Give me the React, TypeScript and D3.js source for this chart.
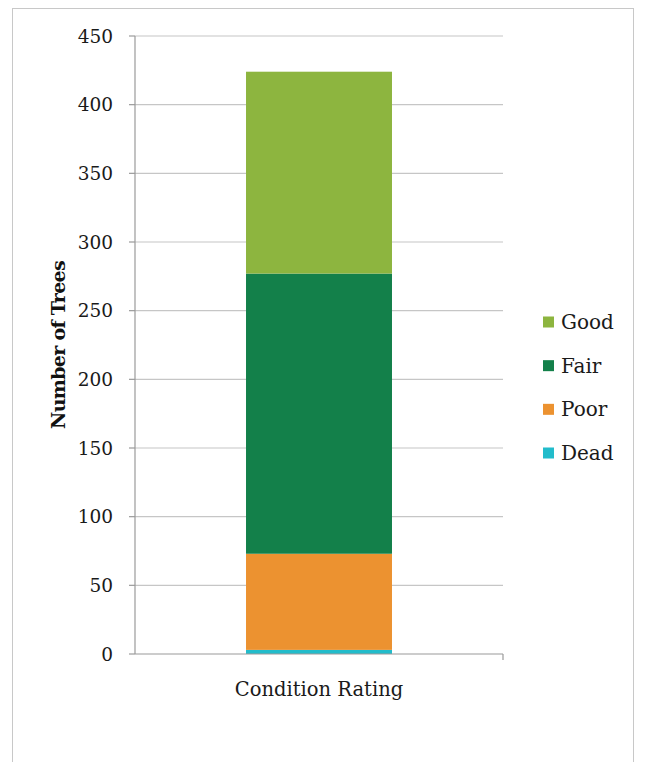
import React from "react";
import * as d3 from "d3";

// Tree counts by condition rating (stacked from the bottom up)
const categories = ["Condition Rating"];
const seriesNames = ["Dead", "Poor", "Fair", "Good"];
const seriesValues = [3, 70, 204, 147];
const seriesColors = ["#22bccb", "#ec9230", "#13804a", "#8db53f"];
const yTicks = [0, 50, 100, 150, 200, 250, 300, 350, 400, 450];
const legendOrder = ["Good", "Fair", "Poor", "Dead"];

const W = 647;
const H = 762;
const plot = { left: 135, right: 503, top: 36, bottom: 654 };
const FONT = "'DejaVu Serif', serif";

export default function App() {
  const y = d3.scaleLinear().domain([0, 450]).range([plot.bottom, plot.top]);
  const x = d3
    .scaleBand<string>()
    .domain(categories)
    .range([plot.left, plot.right])
    .paddingInner(0.432)
    .paddingOuter(0.432);

  const row: Record<string, number | string> = { cat: categories[0] };
  seriesNames.forEach((n, i) => (row[n] = seriesValues[i]));
  const stacked = d3.stack<Record<string, any>>().keys(seriesNames)([row]);
  const color = d3.scaleOrdinal<string, string>().domain(seriesNames).range(seriesColors);

  const legendY = d3.scalePoint<string>().domain(legendOrder).range([322, 453]);

  return (
    <svg
      width={W}
      height={H}
      style={{ position: "absolute", left: 0, top: 0, background: "#fff" }}
    >
      <rect x={12.5} y={8.5} width={621} height={760} fill="#fff" stroke="#c8c8c8" strokeWidth={1} />

      {/* gridlines */}
      {yTicks.slice(1).map((t) => (
        <line key={t} x1={plot.left} x2={plot.right} y1={y(t)} y2={y(t)} stroke="#c6c6c6" strokeWidth={1.2} />
      ))}

      {/* stacked bar */}
      {stacked.map((s) =>
        s.map((d, j) => (
          <rect
            key={s.key + j}
            x={x(categories[j])}
            width={x.bandwidth()}
            y={y(d[1])}
            height={y(d[0]) - y(d[1])}
            fill={color(s.key)}
          />
        ))
      )}

      {/* y axis */}
      <line x1={plot.left} x2={plot.left} y1={plot.top} y2={plot.bottom} stroke="#9a9a9a" strokeWidth={1.2} />
      {yTicks.map((t) => (
        <g key={t}>
          <line x1={plot.left - 6} x2={plot.left} y1={y(t)} y2={y(t)} stroke="#9a9a9a" strokeWidth={1.2} />
          <text
            x={plot.left - 22}
            y={y(t)}
            textAnchor="end"
            dominantBaseline="central"
            fontFamily={FONT}
            fontSize={18.5}
            fill="#1a1a1a"
          >
            {t}
          </text>
        </g>
      ))}

      {/* x axis */}
      <line x1={plot.left} x2={plot.right} y1={plot.bottom} y2={plot.bottom} stroke="#9a9a9a" strokeWidth={1.2} />
      <line x1={plot.right} x2={plot.right} y1={plot.bottom} y2={plot.bottom + 6} stroke="#9a9a9a" strokeWidth={1.2} />
      <text
        x={(x(categories[0]) as number) + x.bandwidth() / 2}
        y={689}
        textAnchor="middle"
        dominantBaseline="central"
        fontFamily={FONT}
        fontSize={19.5}
        fill="#1a1a1a"
      >
        {categories[0]}
      </text>

      {/* y title */}
      <text
        transform={`translate(58, ${(plot.top + plot.bottom) / 2}) rotate(-90)`}
        textAnchor="middle"
        dominantBaseline="central"
        fontFamily={FONT}
        fontWeight="bold"
        fontSize={19}
        letterSpacing={-0.7}
        fill="#111"
      >
        Number of Trees
      </text>

      {/* legend */}
      {legendOrder.map((n) => (
        <g key={n} transform={`translate(543, ${legendY(n)})`}>
          <rect x={0} y={-5.5} width={11} height={11} fill={color(n)} />
          <text x={18} y={0} dominantBaseline="central" fontFamily={FONT} fontSize={20} fill="#1a1a1a">
            {n}
          </text>
        </g>
      ))}
    </svg>
  );
}
